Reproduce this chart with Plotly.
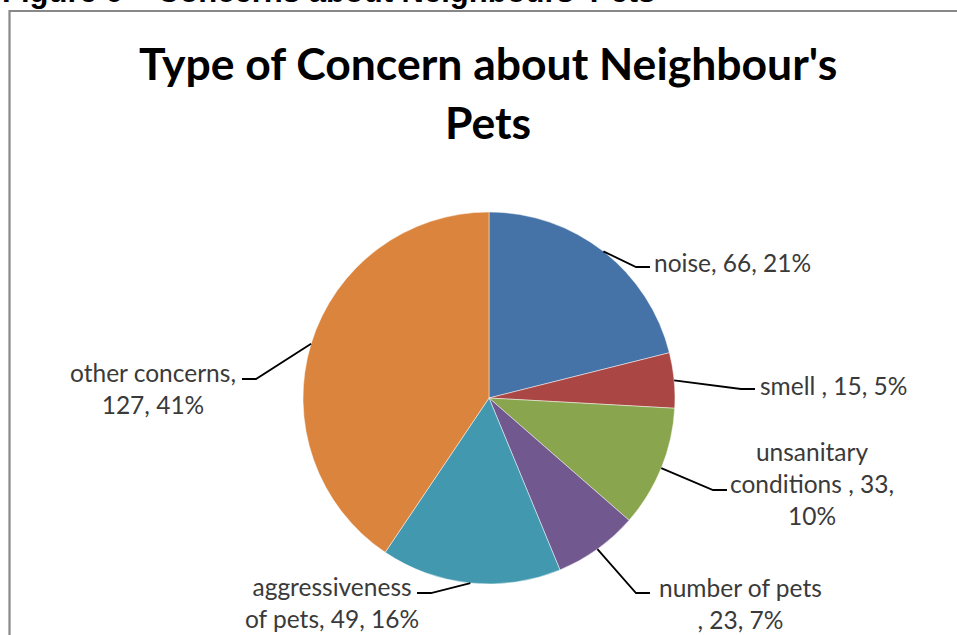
import math
import plotly.graph_objects as go

W, H = 957, 635

# ---- data ----
categories = ["noise", "smell ", "unsanitary conditions ", "number of pets ", "aggressiveness of pets", "other concerns"]
values = [66, 15, 33, 23, 49, 127]
percents = [21, 5, 10, 7, 16, 41]
colors = ["#4572A7", "#AA4643", "#89A54E", "#71588F", "#4198AF", "#DB843D"]

# label text with line breaks as in the reference
label_texts = [
    f"{categories[0]}, {values[0]}, {percents[0]}%",
    f"{categories[1]}, {values[1]}, {percents[1]}%",
    f"unsanitary<br>conditions , {values[2]},<br>{percents[2]}%",
    f"number of pets<br>, {values[3]}, {percents[3]}%",
    f"aggressiveness<br>of pets, {values[4]}, {percents[4]}%",
    f"other concerns,<br>{values[5]}, {percents[5]}%",
]

# ---- layout geometry (pixels) ----
CX, CY, R = 489, 398, 186
# label anchor (x, y, xanchor) and leader-line end point (x, y)
label_pos = [(652, 262, "left"), (758, 385, "left"), (812, 483, "center"),
             (740, 603, "center"), (332, 602, "center"), (153, 388, "center")]
line_end = [(650, 267), (755, 389), (727, 490), (650, 593), (417, 593), (242, 379)]

def px(x):
    return x / W

def py(y):
    return 1 - y / H

fig = go.Figure()
fig.add_trace(go.Pie(
    labels=categories, values=values, sort=False, direction="clockwise", rotation=0,
    marker=dict(colors=colors, line=dict(color="rgba(255,255,255,0.6)", width=0.8)),
    textinfo="none", hoverinfo="label+value+percent",
    domain=dict(x=[px(CX - R), px(CX + R)], y=[py(CY + R), py(CY - R)]),
    showlegend=False,
))

shapes = []
annotations = []
total = sum(values)
cum = 0
for i, v in enumerate(values):
    mid = (cum + v / 2) / total * 2 * math.pi
    cum += v
    ex = CX + R * math.sin(mid)
    ey = CY - R * math.cos(mid)
    lx, ly = line_end[i]
    elbow_x = lx + (-14 if lx > CX else 14)
    path = f"M {px(ex)} {py(ey)} L {px(elbow_x)} {py(ly)} L {px(lx)} {py(ly)}"
    shapes.append(dict(type="path", path=path, xref="paper", yref="paper",
                       line=dict(color="#000000", width=1.8)))
    tx, ty, anc = label_pos[i]
    annotations.append(dict(text=label_texts[i], x=px(tx), y=py(ty), xref="paper", yref="paper",
                            xanchor=anc, yanchor="middle", align="center", showarrow=False,
                            font=dict(family="Lato", size=24.5, color="#3a3a3a")))

# chart border (extends past the visible page on right/bottom)
shapes.append(dict(type="rect", xref="paper", yref="paper", x0=px(9.5), y0=-0.2, x1=1.2, y1=py(11),
                   line=dict(color="#888888", width=2.2), fillcolor="rgba(0,0,0,0)", layer="below"))

# chart title (two lines)
annotations.append(dict(text="Type of Concern about Neighbour's", x=px(488), y=py(62), xref="paper", yref="paper",
                        xanchor="center", yanchor="middle", showarrow=False,
                        font=dict(family="Lato", size=44.5, color="#000000", weight="bold")))
annotations.append(dict(text="Pets", x=px(488), y=py(122), xref="paper", yref="paper",
                        xanchor="center", yanchor="middle", showarrow=False,
                        font=dict(family="Lato", size=44.5, color="#000000", weight="bold")))
# document caption, mostly cut off at the top (as in the reference)
annotations.append(dict(text="Figure 6 – Concerns about Neighbours' Pets", x=px(0), y=py(11), xref="paper", yref="paper",
                        xanchor="left", yanchor="bottom", showarrow=False,
                        font=dict(family="Liberation Sans", size=31, color="#000000", weight="bold")))

fig.update_layout(
    width=W, height=H, margin=dict(l=0, r=0, t=0, b=0),
    paper_bgcolor="white", plot_bgcolor="white",
    shapes=shapes, annotations=annotations,
)
fig.write_html("out.html")
